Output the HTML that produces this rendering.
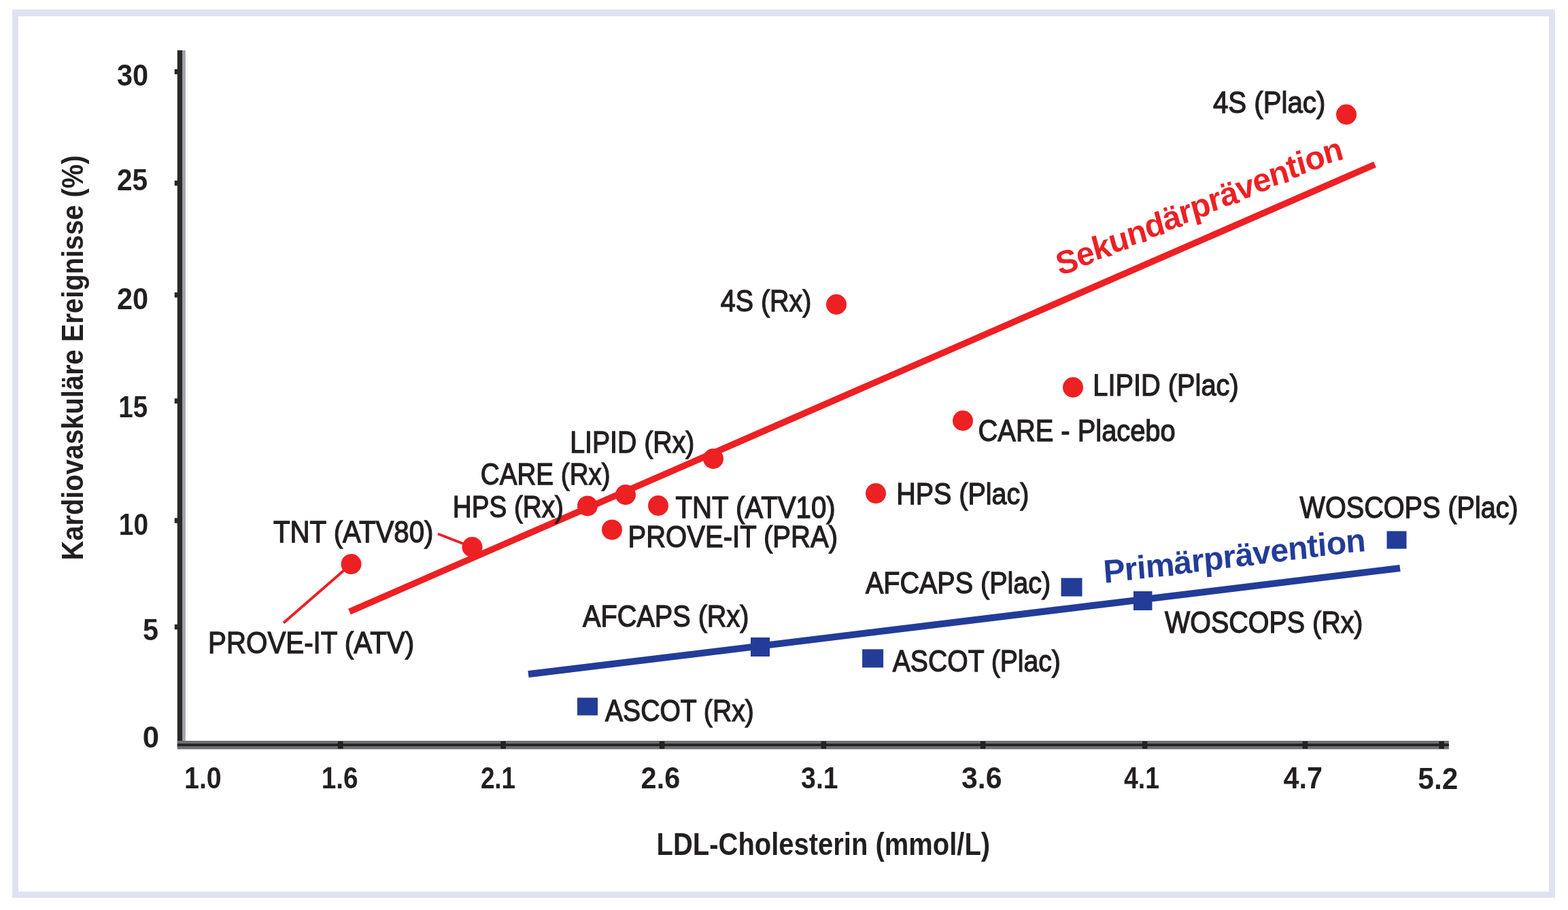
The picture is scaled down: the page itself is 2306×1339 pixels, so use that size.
<!DOCTYPE html>
<html><head><meta charset="utf-8"><title>LDL-Cholesterin</title>
<style>html,body{margin:0;padding:0;background:#fff;}svg{display:block;}
text{font-family:"Liberation Sans",Arial,Helvetica,sans-serif;}</style></head>
<body><svg width="2306" height="1339" viewBox="0 0 2306 1339">
<rect x="0" y="0" width="2306" height="1339" fill="#ffffff"/>
<path d="M18 14H2287V1321H18Z M27 24V1312H2278V24Z" fill="#dfe2f1" fill-rule="evenodd"/>
<rect x="268.2" y="74" width="4.6" height="1022" fill="#a2a3a8"/>
<rect x="260.8" y="74" width="7.4" height="1028" fill="#2a2829"/>
<rect x="260.8" y="1090" width="1870" height="12.4" fill="#6f7074"/>
<rect x="260.8" y="1094.2" width="1870" height="3.8" fill="#232122"/>
<rect x="256.7" y="101.75" width="5" height="7.5" fill="#2a2829"/>
<rect x="256.7" y="265.75" width="5" height="7.5" fill="#2a2829"/>
<rect x="256.7" y="430.25" width="5" height="7.5" fill="#2a2829"/>
<rect x="256.7" y="586.25" width="5" height="7.5" fill="#2a2829"/>
<rect x="256.7" y="762.25" width="5" height="7.5" fill="#2a2829"/>
<rect x="256.7" y="918.75" width="5" height="7.5" fill="#2a2829"/>
<rect x="496.90" y="1090.8" width="7.6" height="11" fill="#232122"/>
<rect x="736.30" y="1090.8" width="7.6" height="11" fill="#232122"/>
<rect x="969.80" y="1090.8" width="7.6" height="11" fill="#232122"/>
<rect x="1207.50" y="1090.8" width="7.6" height="11" fill="#232122"/>
<rect x="1441.80" y="1090.8" width="7.6" height="11" fill="#232122"/>
<rect x="1679.80" y="1090.8" width="7.6" height="11" fill="#232122"/>
<rect x="1915.60" y="1090.8" width="7.6" height="11" fill="#232122"/>
<rect x="2116.20" y="1090.8" width="7.6" height="11" fill="#232122"/>
<line x1="514" y1="900" x2="2022" y2="242" stroke="#ed2024" stroke-width="9.5"/>
<line x1="777" y1="992" x2="2059" y2="836" stroke="#233c98" stroke-width="10"/>
<line x1="417" y1="916.5" x2="516.5" y2="830" stroke="#ed2024" stroke-width="4"/>
<line x1="644" y1="785.5" x2="694" y2="805" stroke="#ed2024" stroke-width="4"/>
<circle cx="1980" cy="168.5" r="15" fill="#ed2024"/>
<circle cx="1230" cy="448" r="15" fill="#ed2024"/>
<circle cx="1578" cy="570" r="15" fill="#ed2024"/>
<circle cx="1416" cy="619" r="15" fill="#ed2024"/>
<circle cx="1049" cy="675" r="15" fill="#ed2024"/>
<circle cx="920" cy="728" r="15" fill="#ed2024"/>
<circle cx="864" cy="744.4" r="15" fill="#ed2024"/>
<circle cx="968" cy="744" r="15" fill="#ed2024"/>
<circle cx="900" cy="779.4" r="15" fill="#ed2024"/>
<circle cx="1288" cy="726" r="15" fill="#ed2024"/>
<circle cx="694.5" cy="805" r="15" fill="#ed2024"/>
<circle cx="516.5" cy="830" r="15" fill="#ed2024"/>
<rect x="2039.50" y="781.50" width="29" height="26" fill="#233c98"/>
<rect x="1560.50" y="850.50" width="31" height="27" fill="#233c98"/>
<rect x="1666.95" y="870.00" width="27.5" height="28" fill="#233c98"/>
<rect x="1104.00" y="938.00" width="28" height="28" fill="#233c98"/>
<rect x="1268.10" y="955.30" width="31" height="27" fill="#233c98"/>
<rect x="849.00" y="1026.60" width="30" height="26" fill="#233c98"/>
<text transform="translate(1784.30 165.90) scale(0.9144 1)" x="-0.35" y="0" font-weight="400" font-size="44" fill="#231f20" stroke="#231f20" stroke-width="1.3">4S (Plac)</text>
<text transform="translate(1060.00 457.70) scale(0.8973 1)" x="-0.35" y="0" font-weight="400" font-size="44" fill="#231f20" stroke="#231f20" stroke-width="1.3">4S (Rx)</text>
<text transform="translate(1609.40 581.90) scale(0.9042 1)" x="-2.35" y="0" font-weight="400" font-size="44" fill="#231f20" stroke="#231f20" stroke-width="1.3">LIPID (Plac)</text>
<text transform="translate(1439.80 648.50) scale(0.9058 1)" x="-1.35" y="0" font-weight="400" font-size="44" fill="#231f20" stroke="#231f20" stroke-width="1.3">CARE - Placebo</text>
<text transform="translate(840.30 665.70) scale(0.8921 1)" x="-2.35" y="0" font-weight="400" font-size="44" fill="#231f20" stroke="#231f20" stroke-width="1.3">LIPID (Rx)</text>
<text transform="translate(708.00 713.40) scale(0.8777 1)" x="-1.35" y="0" font-weight="400" font-size="44" fill="#231f20" stroke="#231f20" stroke-width="1.3">CARE (Rx)</text>
<text transform="translate(667.80 761.30) scale(0.8792 1)" x="-2.35" y="0" font-weight="400" font-size="44" fill="#231f20" stroke="#231f20" stroke-width="1.3">HPS (Rx)</text>
<text transform="translate(992.90 761.60) scale(0.9134 1)" x="0.65" y="0" font-weight="400" font-size="44" fill="#231f20" stroke="#231f20" stroke-width="1.3">TNT (ATV10)</text>
<text transform="translate(1320.30 741.50) scale(0.8976 1)" x="-2.35" y="0" font-weight="400" font-size="44" fill="#231f20" stroke="#231f20" stroke-width="1.3">HPS (Plac)</text>
<text transform="translate(1911.00 761.50) scale(0.9000 1)" x="0.65" y="0" font-weight="400" font-size="44" fill="#231f20" stroke="#231f20" stroke-width="1.3">WOSCOPS (Plac)</text>
<text transform="translate(401.40 797.50) scale(0.9146 1)" x="0.65" y="0" font-weight="400" font-size="44" fill="#231f20" stroke="#231f20" stroke-width="1.3">TNT (ATV80)</text>
<text transform="translate(925.60 805.40) scale(0.9104 1)" x="-2.35" y="0" font-weight="400" font-size="44" fill="#231f20" stroke="#231f20" stroke-width="1.3">PROVE-IT (PRA)</text>
<text transform="translate(1272.40 873.40) scale(0.8982 1)" x="0.65" y="0" font-weight="400" font-size="44" fill="#231f20" stroke="#231f20" stroke-width="1.3">AFCAPS (Plac)</text>
<text transform="translate(856.40 921.60) scale(0.9015 1)" x="0.65" y="0" font-weight="400" font-size="44" fill="#231f20" stroke="#231f20" stroke-width="1.3">AFCAPS (Rx)</text>
<text transform="translate(1712.40 930.70) scale(0.8970 1)" x="0.65" y="0" font-weight="400" font-size="44" fill="#231f20" stroke="#231f20" stroke-width="1.3">WOSCOPS (Rx)</text>
<text transform="translate(308.20 960.70) scale(0.9160 1)" x="-2.35" y="0" font-weight="400" font-size="44" fill="#231f20" stroke="#231f20" stroke-width="1.3">PROVE-IT (ATV)</text>
<text transform="translate(1312.20 988.20) scale(0.8892 1)" x="0.65" y="0" font-weight="400" font-size="44" fill="#231f20" stroke="#231f20" stroke-width="1.3">ASCOT (Plac)</text>
<text transform="translate(889.40 1060.70) scale(0.8891 1)" x="0.65" y="0" font-weight="400" font-size="44" fill="#231f20" stroke="#231f20" stroke-width="1.3">ASCOT (Rx)</text>
<text transform="translate(172.90 125.50) scale(0.9326 1)" x="-1.00" y="0" font-weight="700" font-size="44.5" fill="#231f20">30</text>
<text transform="translate(172.90 280.20) scale(0.9131 1)" x="-1.00" y="0" font-weight="700" font-size="44.5" fill="#231f20">25</text>
<text transform="translate(172.90 455.20) scale(0.9326 1)" x="-1.00" y="0" font-weight="700" font-size="44.5" fill="#231f20">20</text>
<text transform="translate(176.00 613.50) scale(0.8663 1)" x="-2.00" y="0" font-weight="700" font-size="44.5" fill="#231f20">15</text>
<text transform="translate(176.50 787.30) scale(0.8743 1)" x="-2.00" y="0" font-weight="700" font-size="44.5" fill="#231f20">10</text>
<text transform="translate(211.00 941.60) scale(0.9304 1)" x="-1.00" y="0" font-weight="700" font-size="44.5" fill="#231f20">5</text>
<text transform="translate(210.80 1099.60) scale(0.9818 1)" x="-1.00" y="0" font-weight="700" font-size="44.5" fill="#231f20">0</text>
<text transform="translate(272.80 1159.60) scale(0.8845 1)" x="-2.00" y="0" font-weight="700" font-size="44.5" fill="#231f20">1.0</text>
<text transform="translate(474.50 1159.60) scale(0.8712 1)" x="-2.00" y="0" font-weight="700" font-size="44.5" fill="#231f20">1.6</text>
<text transform="translate(707.70 1159.60) scale(0.8268 1)" x="-1.00" y="0" font-weight="700" font-size="44.5" fill="#231f20">2.1</text>
<text transform="translate(943.50 1159.60) scale(0.9316 1)" x="-1.00" y="0" font-weight="700" font-size="44.5" fill="#231f20">2.6</text>
<text transform="translate(1179.00 1159.60) scale(0.8817 1)" x="-1.00" y="0" font-weight="700" font-size="44.5" fill="#231f20">3.1</text>
<text transform="translate(1415.00 1159.60) scale(0.9615 1)" x="-1.00" y="0" font-weight="700" font-size="44.5" fill="#231f20">3.6</text>
<text transform="translate(1653.00 1159.60) scale(0.8411 1)" x="0.00" y="0" font-weight="700" font-size="44.5" fill="#231f20">4.1</text>
<text transform="translate(1887.50 1159.60) scale(0.9299 1)" x="0.00" y="0" font-weight="700" font-size="44.5" fill="#231f20">4.7</text>
<text transform="translate(2086.30 1160.50) scale(0.9507 1)" x="-1.00" y="0" font-weight="700" font-size="44.5" fill="#231f20">5.2</text>
<text transform="translate(968.20 1258.00) scale(0.8686 1)" x="-3.00" y="0" font-weight="700" font-size="46" fill="#231f20">LDL-Cholesterin (mmol/L)</text>
<text transform="translate(122.4 821.8) rotate(-90) scale(0.8863 1)" x="-3.00" y="0" font-weight="700" font-size="45" fill="#231f20">Kardiovaskuläre Ereignisse (%)</text>
<text x="1558.10 1586.93 1610.98 1635.02 1661.43 1687.83 1714.24 1738.28 1755.10 1781.51 1798.34 1822.38 1846.42 1870.46 1896.87 1911.27 1923.28 1949.68" y="404.88 392.82 382.77 372.72 361.68 350.64 339.60 329.55 322.51 311.47 304.44 294.39 284.34 274.29 263.25 257.23 252.21 241.17" rotate="-15" font-weight="700" font-size="48" fill="#ed2024">Sekundärprävention</text>
<text x="1624.10 1655.08 1673.16 1686.07 1727.37 1753.21 1771.28 1799.66 1817.74 1843.57 1869.41 1895.24 1923.62 1939.09 1951.99 1980.37" y="857.86 853.99 851.72 850.11 844.94 841.70 839.44 835.89 833.63 830.39 827.16 823.93 820.37 818.44 816.82 813.27" rotate="-4.5" font-weight="700" font-size="48" fill="#233c98">Primärprävention</text>
</svg></body></html>
